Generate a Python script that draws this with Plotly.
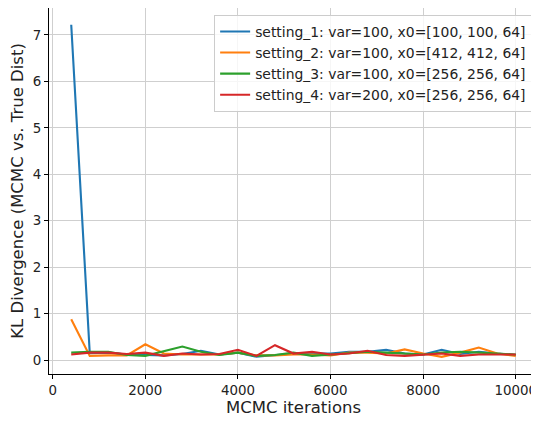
import plotly.graph_objects as go

iterations = [400, 800, 1200, 1600, 2000, 2400, 2800, 3200, 3600, 4000, 4400, 4800, 5200,
              5600, 6000, 6400, 6800, 7200, 7600, 8000, 8400, 8800, 9200, 9600, 10000]

setting_1 = [7.22, 0.15, 0.16, 0.12, 0.11, 0.10, 0.13, 0.20, 0.12, 0.16, 0.07, 0.11, 0.14,
             0.14, 0.14, 0.18, 0.18, 0.22, 0.14, 0.12, 0.22, 0.13, 0.18, 0.14, 0.11]
setting_2 = [0.88, 0.09, 0.10, 0.10, 0.34, 0.14, 0.12, 0.12, 0.12, 0.16, 0.10, 0.10, 0.12,
             0.12, 0.10, 0.16, 0.16, 0.14, 0.23, 0.14, 0.07, 0.16, 0.27, 0.14, 0.09]
setting_3 = [0.16, 0.18, 0.18, 0.11, 0.09, 0.19, 0.29, 0.18, 0.11, 0.16, 0.09, 0.11, 0.16,
             0.09, 0.12, 0.16, 0.18, 0.16, 0.14, 0.12, 0.16, 0.18, 0.16, 0.14, 0.12]
setting_4 = [0.12, 0.16, 0.16, 0.13, 0.16, 0.09, 0.14, 0.12, 0.13, 0.22, 0.09, 0.32, 0.14,
             0.18, 0.12, 0.14, 0.20, 0.11, 0.09, 0.12, 0.14, 0.09, 0.12, 0.12, 0.12]

names = ["setting_1: var=100, x0=[100, 100, 64]",
         "setting_2: var=100, x0=[412, 412, 64]",
         "setting_3: var=100, x0=[256, 256, 64]",
         "setting_4: var=200, x0=[256, 256, 64]"]
series = [setting_1, setting_2, setting_3, setting_4]
colors = ["#1f77b4", "#ff7f0e", "#2ca02c", "#d62728"]

fig = go.Figure()
for name, ys, c in zip(names, series, colors):
    fig.add_trace(go.Scatter(x=iterations, y=ys, mode="lines", name=name,
                             line=dict(color=c, width=2.1)))

axis_common = dict(showline=True, linecolor="black", linewidth=1.1, mirror=True,
                   showgrid=True, gridcolor="#cfcfcf", gridwidth=1,
                   ticks="outside", ticklen=4, tickcolor="black", tickwidth=1,
                   zeroline=False, tickfont=dict(size=13.4, color="#222"))

# the page body adds an 8px margin, so the figure is 8px smaller and margins shifted
fig.update_layout(
    width=531, height=413,
    margin=dict(l=41, r=1, t=0, b=47),
    paper_bgcolor="white", plot_bgcolor="white",
    font=dict(family="DejaVu Sans", color="#222"),
    xaxis=dict(range=[-80, 10480], tick0=0, dtick=2000, tickformat="d",
               title=dict(text="MCMC iterations", font=dict(size=16.5), standoff=4),
               **axis_common),
    yaxis=dict(range=[-0.3, 7.58], tick0=0, dtick=1,
               title=dict(text="KL Divergence (MCMC vs. True Dist)", font=dict(size=16.5), standoff=6),
               **axis_common),
    legend=dict(x=0.988, y=0.981, xanchor="right", yanchor="top",
                bgcolor="rgba(255,255,255,0.8)", bordercolor="#cccccc", borderwidth=1,
                font=dict(size=13.9, color="#222"), tracegroupgap=0),
    showlegend=True,
)

fig.write_html("out.html")
